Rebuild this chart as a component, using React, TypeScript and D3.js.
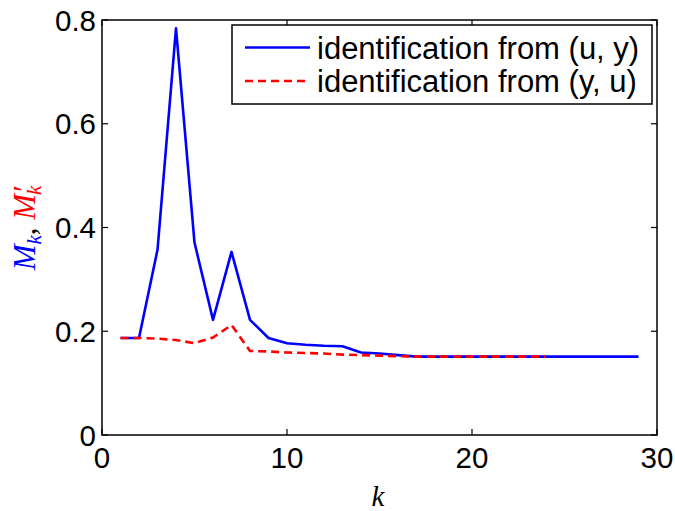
import React, { useEffect, useRef } from 'react';
import * as d3 from 'd3';

// k = 1..29 for the (u, y) curve, k = 1..24 for the (y, u) curve
const kBlue = d3.range(1, 30);
const blueValues = [
  0.187, 0.187, 0.357, 0.784, 0.371, 0.222, 0.353, 0.222, 0.187, 0.177,
  0.174, 0.172, 0.171, 0.159, 0.157, 0.154, 0.151, 0.151, 0.151, 0.151,
  0.151, 0.151, 0.151, 0.151, 0.151, 0.151, 0.151, 0.151, 0.151,
];
const kRed = d3.range(1, 25);
const redValues = [
  0.187, 0.187, 0.186, 0.183, 0.177, 0.188, 0.212, 0.162, 0.161, 0.159,
  0.158, 0.157, 0.155, 0.154, 0.153, 0.152, 0.151, 0.151, 0.151, 0.151,
  0.151, 0.151, 0.151, 0.151,
];
const xTicks = [0, 10, 20, 30];
const yTicks = [0, 0.2, 0.4, 0.6, 0.8];
const legendLabels = ['identification from (u, y)', 'identification from (y, u)'];

const App = () => {
  const ref = useRef<SVGSVGElement>(null);

  useEffect(() => {
    const svg = d3.select(ref.current);
    svg.selectAll('*').remove();

    const left = 102;
    const top = 20;
    const right = 657;
    const bottom = 435;
    const tickLen = 6;
    const sans = '"Liberation Sans", Arial, sans-serif';

    const x = d3.scaleLinear().domain([0, 30]).range([left, right]);
    const y = d3.scaleLinear().domain([0, 0.8]).range([bottom, top]);

    svg.append('rect').attr('width', 675).attr('height', 511).attr('fill', 'white');

    // data lines
    const line = d3
      .line<[number, number]>()
      .x((d) => x(d[0]))
      .y((d) => y(d[1]));

    svg
      .append('path')
      .datum(kBlue.map((k, i) => [k, blueValues[i]] as [number, number]))
      .attr('d', line)
      .attr('fill', 'none')
      .attr('stroke', '#0000ff')
      .attr('stroke-width', 2.6)
      .attr('stroke-linejoin', 'round');

    svg
      .append('path')
      .datum(kRed.map((k, i) => [k, redValues[i]] as [number, number]))
      .attr('d', line)
      .attr('fill', 'none')
      .attr('stroke', '#ff0000')
      .attr('stroke-width', 2.6)
      .attr('stroke-dasharray', '8,5');

    // frame
    svg
      .append('rect')
      .attr('x', left)
      .attr('y', top)
      .attr('width', right - left)
      .attr('height', bottom - top)
      .attr('fill', 'none')
      .attr('stroke', 'black')
      .attr('stroke-width', 1.5);

    const ticks = svg.append('g').attr('stroke', 'black').attr('stroke-width', 1.2);
    xTicks.forEach((t) => {
      ticks.append('line').attr('x1', x(t)).attr('x2', x(t)).attr('y1', bottom).attr('y2', bottom - tickLen);
      ticks.append('line').attr('x1', x(t)).attr('x2', x(t)).attr('y1', top).attr('y2', top + tickLen);
    });
    yTicks.forEach((t) => {
      ticks.append('line').attr('x1', left).attr('x2', left + tickLen).attr('y1', y(t)).attr('y2', y(t));
      ticks.append('line').attr('x1', right).attr('x2', right - tickLen).attr('y1', y(t)).attr('y2', y(t));
    });

    // tick labels
    svg
      .append('g')
      .selectAll('text')
      .data(xTicks)
      .join('text')
      .attr('x', (d) => x(d))
      .attr('y', 468)
      .attr('text-anchor', 'middle')
      .style('font', `29.5px ${sans}`)
      .text((d) => String(d));

    svg
      .append('g')
      .selectAll('text')
      .data(yTicks)
      .join('text')
      .attr('x', left - 6)
      .attr('y', (d) => y(d) + 10.5)
      .attr('text-anchor', 'end')
      .style('font', `29.5px ${sans}`)
      .text((d) => (d === 0 ? '0' : d3.format('.1f')(d)));

    // axis labels
    svg
      .append('text')
      .attr('x', 378)
      .attr('y', 506)
      .attr('text-anchor', 'middle')
      .style('font', 'italic 29px "Liberation Serif", "Times New Roman", serif')
      .text('k');

    const yl = svg
      .append('text')
      .attr('transform', 'translate(35,228) rotate(-90)')
      .attr('text-anchor', 'middle')
      .style('font', 'italic 31px "Liberation Serif", "Times New Roman", serif');
    yl.append('tspan').attr('fill', '#0000ff').text('M');
    yl.append('tspan').attr('fill', '#0000ff').attr('dy', 6).style('font-size', '21px').text('k');
    yl.append('tspan').attr('fill', 'black').attr('dy', -6).style('font-style', 'normal').text(', ');
    yl.append('tspan').attr('fill', '#ff0000').text('M′');
    yl.append('tspan').attr('fill', '#ff0000').attr('dy', 6).attr('dx', -8).style('font-size', '21px').text('k');

    // legend
    const lg = svg.append('g');
    lg.append('rect')
      .attr('x', 232)
      .attr('y', 25)
      .attr('width', 420)
      .attr('height', 79)
      .attr('fill', 'white')
      .attr('stroke', 'black')
      .attr('stroke-width', 1.5);
    const rows = [
      { color: '#0000ff', dash: null, label: legendLabels[0], cy: 47.5 },
      { color: '#ff0000', dash: '8,5', label: legendLabels[1], cy: 81 },
    ];
    rows.forEach((r) => {
      lg.append('line')
        .attr('x1', 245)
        .attr('x2', 310)
        .attr('y1', r.cy)
        .attr('y2', r.cy)
        .attr('stroke', r.color)
        .attr('stroke-width', 2.6)
        .attr('stroke-dasharray', r.dash);
      lg.append('text')
        .attr('x', 317)
        .attr('y', r.cy + 11)
        .style('font', `31px ${sans}`)
        .text(r.label);
    });
  }, []);

  return (
    <svg
      ref={ref}
      width={675}
      height={511}
      style={{ position: 'absolute', left: 0, top: 0, display: 'block' }}
    />
  );
};

export default App;
